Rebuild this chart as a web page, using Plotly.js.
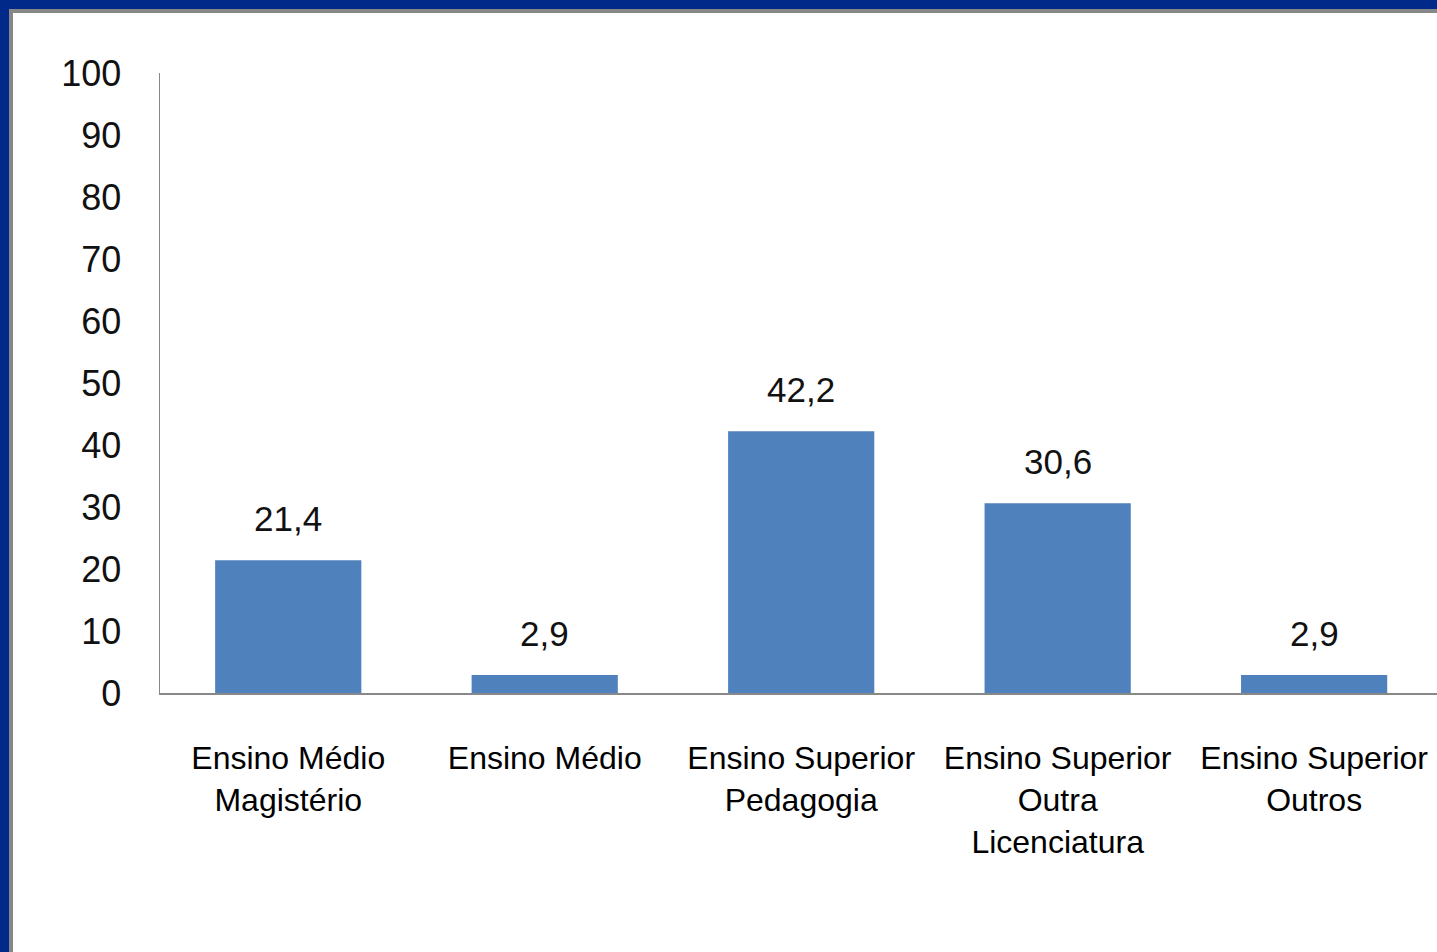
<!DOCTYPE html>
<html>
<head>
<meta charset="utf-8">
<script src="https://cdn.plot.ly/plotly-3.0.1.min.js"></script>
<style>
  html, body { margin: 0; padding: 0; background: #ffffff; overflow: hidden; }
  #chart { position: absolute; left: 0; top: 0; width: 1437px; height: 952px; }
  .bt1 { position: absolute; left: 0; top: 0; width: 1437px; height: 9px; background: #00298a; }
  .bl1 { position: absolute; left: 0; top: 0; width: 9px; height: 952px; background: #00298a; }
  .bt2 { position: absolute; left: 9px; top: 9px; width: 1428px; height: 4px; background: #878787; }
  .bl2 { position: absolute; left: 9px; top: 9px; width: 4px; height: 943px; background: #878787; }
</style>
</head>
<body>
<div id="chart"></div>
<div class="bt1"></div><div class="bl1"></div><div class="bt2"></div><div class="bl2"></div>
<script>
const categories = [
  "Ensino Médio<br>Magistério",
  "Ensino Médio",
  "Ensino Superior<br>Pedagogia",
  "Ensino Superior<br>Outra<br>Licenciatura",
  "Ensino Superior<br>Outros"
];
const values = [21.4, 2.9, 42.2, 30.6, 2.9];
const valueLabels = ["21,4", "2,9", "42,2", "30,6", "2,9"];
const yTicks = [0, 10, 20, 30, 40, 50, 60, 70, 80, 90, 100];

const FONT = "Liberation Sans, Arial, sans-serif";

const trace = {
  type: "bar",
  x: categories,
  y: values,
  width: 0.57,
  marker: { color: "#4f81bd" },
  hoverinfo: "none"
};

const annotations = categories.map((c, i) => ({
  x: c, y: values[i], xref: "x", yref: "y",
  text: valueLabels[i], showarrow: false,
  yanchor: "bottom", yshift: 20,
  font: { family: FONT, size: 35, color: "#111111" }
}));

const layout = {
  width: 1437, height: 952,
  margin: { l: 160, r: 0, t: 73, b: 259, pad: 0 },
  paper_bgcolor: "#ffffff", plot_bgcolor: "#ffffff",
  showlegend: false,
  xaxis: {
    type: "category",
    range: [-0.5, 4.479],
    showline: true, linecolor: "#888888", linewidth: 2,
    showgrid: false, zeroline: false, ticks: "",
    tickfont: { family: FONT, size: 32, color: "#000000" },
    ticklabelstandoff: 36
  },
  yaxis: {
    range: [0, 100],
    tickvals: yTicks,
    ticktext: yTicks.map(String),
    showline: true, linecolor: "#888888", linewidth: 1.5,
    showgrid: false, zeroline: false, ticks: "",
    tickfont: { family: FONT, size: 36, color: "#111111" },
    ticklabelstandoff: 30
  },
  annotations: annotations
};

Plotly.newPlot("chart", [trace], layout, { staticPlot: true, displayModeBar: false });
</script>
</body>
</html>
